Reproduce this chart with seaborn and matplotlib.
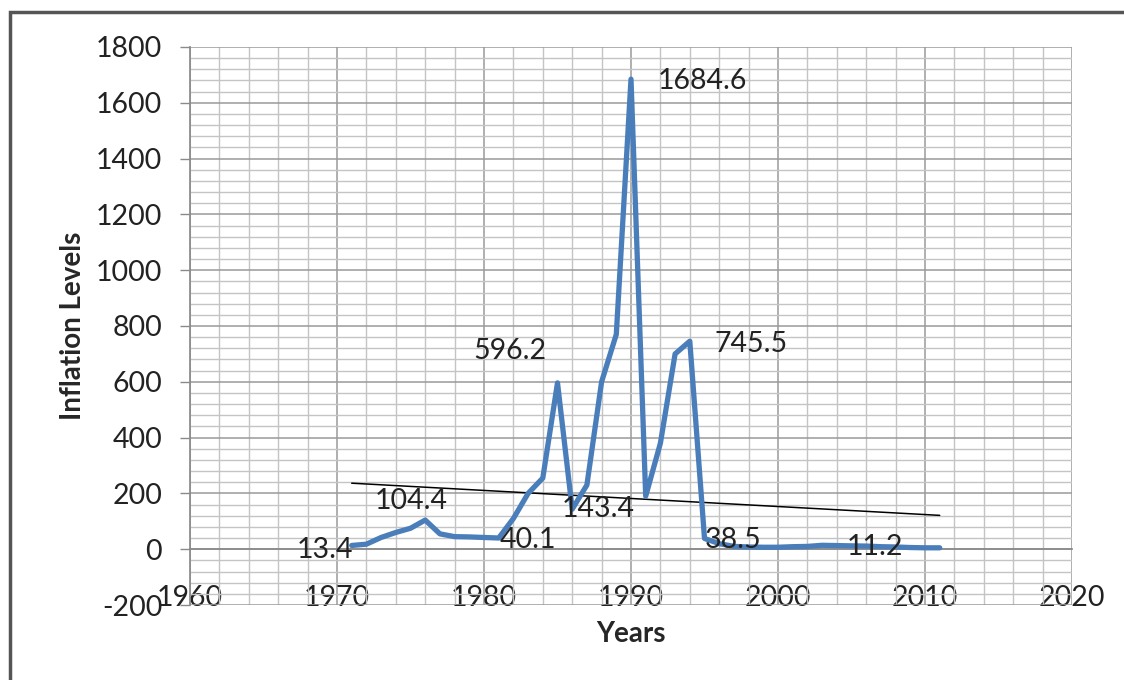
import matplotlib
matplotlib.use("Agg")
import matplotlib.pyplot as plt
from matplotlib.ticker import MultipleLocator
from matplotlib.patches import Rectangle
import seaborn as sns
import numpy as np
import pandas as pd

# data
years = list(range(1971, 2012))
inflation = [13.4, 18, 42, 60, 75, 104.4, 55, 45, 44, 42,
             40.1, 110, 200, 255, 596.2, 143.4, 230, 600, 770, 1684.6,
             190, 380, 700, 745.5, 38.5, 20, 10, 8, 7, 7,
             9, 10, 14, 13, 12, 11.2, 9, 8, 6, 5,
             5]

# labelled points and where their text sits (offset in pixels)
label_years = [1971, 1976, 1981, 1985, 1986, 1990, 1994, 1995, 2006]
label_dx = [-27, -14, 29, -48, 26, 71, 61, 29, 9]
label_dy = [-5, 19, -2, 32, 0, -2, -3, -2, -1]

df = pd.DataFrame({"Years": years, "Inflation": inflation})

sns.set_theme(style="white")
plt.rcParams['font.family'] = ['Lato', 'DejaVu Sans']
plt.rcParams['axes.unicode_minus'] = False

fig = plt.figure(figsize=(11.24, 6.8), dpi=100)
ax = fig.add_axes([190/1124, 1-605/680, (1072-190)/1124, (605-47)/680])

sns.lineplot(data=df, x="Years", y="Inflation", color="#4a7ebb", linewidth=3.8, ax=ax, zorder=3)

# linear trend line like the Excel one
coef = np.polyfit(df["Years"], df["Inflation"], 1)
ax.plot([years[0], years[-1]], np.polyval(coef, [years[0], years[-1]]), color="black", lw=1.1, zorder=2)

for yr, dx, dy in zip(label_years, label_dx, label_dy):
    val = inflation[years.index(yr)]
    ax.annotate(f"{val}", xy=(yr, val), xytext=(dx, dy), textcoords="offset pixels",
                ha="center", va="center", fontsize=20.5, color="#222222", zorder=4)

ax.set_xlim(1960, 2020)
ax.set_ylim(-200, 1800)
ax.xaxis.set_major_locator(MultipleLocator(10))
ax.xaxis.set_minor_locator(MultipleLocator(2))
ax.yaxis.set_major_locator(MultipleLocator(200))
ax.yaxis.set_minor_locator(MultipleLocator(40))
ax.grid(which="major", color="#9a9a9a", lw=1.1)
ax.grid(which="minor", color="#c4c4c4", lw=1.0)
ax.set_axisbelow(True)

for s in ["top", "right"]:
    ax.spines[s].set_visible(False)
ax.spines["bottom"].set_position(("data", 0))
ax.spines["bottom"].set_color("#8a8a8a")
ax.spines["left"].set_color("#8a8a8a")

ax.tick_params(axis="y", which="major", left=True, length=7, width=1, color="#8a8a8a", pad=13, labelsize=20.5, labelcolor="#222222")
ax.tick_params(axis="y", which="minor", left=False)
ax.tick_params(axis="x", which="both", bottom=False, pad=20, labelsize=20.5, labelcolor="#222222")

ax.set_xlabel("Years", fontsize=20, fontweight="bold")
ax.set_ylabel("Inflation Levels", fontsize=20, fontweight="bold")
ax.xaxis.set_label_coords(0.5, -0.028)
ax.yaxis.set_label_coords(-0.118, 0.5)

# chart area border
fig.patches.append(Rectangle((10/1124, -0.1), 1.2, 1.1 - 12/680, transform=fig.transFigure,
                             fill=False, edgecolor="#555555", lw=2.5))

fig.savefig("out.png", dpi=100)
